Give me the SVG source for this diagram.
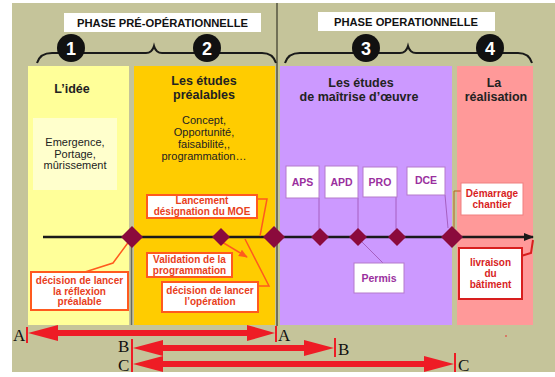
<svg xmlns="http://www.w3.org/2000/svg" width="555" height="377" viewBox="0 0 555 377">
<defs>
<style>
.hdr{font-family:"Liberation Sans",Arial,sans-serif;font-weight:bold;font-size:11px;fill:#111;text-anchor:middle}
.ttl{font-family:"Liberation Sans",Arial,sans-serif;font-weight:bold;font-size:12.5px;fill:#222;text-anchor:middle}
.body{font-family:"Liberation Sans",Arial,sans-serif;font-size:11px;fill:#222;text-anchor:middle}
.num{font-family:"Liberation Sans",Arial,sans-serif;font-weight:bold;font-size:18px;fill:#fff;text-anchor:middle}
.obox{fill:#fff;stroke:#FF5A1E;stroke-width:2}
.otxt{font-family:"Liberation Sans",Arial,sans-serif;font-weight:bold;font-size:10px;fill:#E8401C;text-anchor:middle}
.pbox{fill:#fff;stroke:#B47ACB;stroke-width:1}
.ptxt{font-family:"Liberation Sans",Arial,sans-serif;font-weight:bold;font-size:10.5px;fill:#9A2F9E;text-anchor:middle}
.rtxt{font-family:"Liberation Sans",Arial,sans-serif;font-weight:bold;font-size:10px;fill:#D81E1E;text-anchor:middle}
.dia{fill:#8B0A3C}
.brace{fill:none;stroke:#1a1a1a;stroke-width:2}
.oline{fill:none;stroke:#FF5A1E;stroke-width:1.5}
.pline{fill:none;stroke:#A55FC0;stroke-width:1}
.letter{font-family:"Liberation Serif","Times New Roman",serif;font-size:17px;fill:#111}
.red{fill:#EE1C25}
.tick{stroke:#EE1C25;stroke-width:2}
</style>
<marker id="oarr" viewBox="0 0 10 10" refX="9" refY="5" markerWidth="6" markerHeight="6" orient="auto"><path d="M0,1 L10,5 L0,9 z" fill="#FF5A1E"/></marker>
<marker id="karr" viewBox="0 0 10 10" refX="9" refY="5" markerWidth="4" markerHeight="4" orient="auto"><path d="M0,1 L10,5 L0,9 z" fill="#1a1a1a"/></marker>
</defs>

<!-- background -->
<rect x="12" y="3" width="543" height="369" fill="#C5C49A"/>

<!-- panels -->
<g id="panel1">
<rect x="28" y="66" width="101" height="259" fill="#FFFF99"/>
<rect x="33" y="118" width="84" height="72" fill="#FFFFCC"/>
<text class="ttl" x="72" y="93">L’idée</text>
<text class="body" x="75" y="146">Emergence,</text>
<text class="body" x="75" y="157.5">Portage,</text>
<text class="body" x="75" y="169">mûrissement</text>
</g>
<g id="panel2">
<rect x="134" y="66" width="141" height="259" fill="#FFCC00"/>
<text class="ttl" x="204" y="85">Les études</text>
<text class="ttl" x="204" y="99">préalables</text>
<text class="body" x="204" y="124">Concept,</text>
<text class="body" x="204" y="136">Opportunité,</text>
<text class="body" x="204" y="147.5">faisabilité,,</text>
<text class="body" x="204" y="159.5">programmation…</text>
</g>
<g id="panel3">
<rect x="280" y="66" width="172" height="259" fill="#CC99FF"/>
<text class="ttl" x="361" y="87">Les études</text>
<text class="ttl" x="359" y="101">de maîtrise d’œuvre</text>
</g>
<g id="panel4">
<rect x="457" y="66" width="76" height="259" fill="#FF9999"/>
<text class="ttl" x="494" y="87">La</text>
<text class="ttl" x="496" y="101">réalisation</text>
</g>

<!-- dividers -->
<line x1="131.5" y1="237" x2="131.5" y2="325" stroke="#6b6b5a" stroke-width="1.5"/>
<line x1="277" y1="3" x2="277" y2="326" stroke="#55553f" stroke-width="1.5"/>

<!-- headers -->
<g id="header1">
<rect x="64" y="13" width="197" height="19" fill="#fff"/>
<text class="hdr" x="162.5" y="27" textLength="171" lengthAdjust="spacingAndGlyphs">PHASE PRÉ-OPÉRATIONNELLE</text>
</g>
<g id="header2">
<rect x="318" y="12" width="177" height="19" fill="#fff"/>
<text class="hdr" x="406" y="26" textLength="144" lengthAdjust="spacingAndGlyphs">PHASE OPERATIONNELLE</text>
</g>

<!-- braces -->
<path class="brace" d="M37,63 Q40,53 52,53 L146,53 Q152,53 154,46 Q156,53 162,53 L262,53 Q273,53 276,63"/>
<path class="brace" d="M285,63 Q288,53 300,53 L400,53 Q406,53 408,46 Q410,53 416,53 L518,53 Q529,53 532,63"/>
<g id="step1"><circle cx="71" cy="48" r="14" fill="#111"/><text class="num" x="71" y="54.5">1</text></g>
<g id="step2"><circle cx="207" cy="48" r="14" fill="#111"/><text class="num" x="207" y="54.5">2</text></g>
<g id="step3"><circle cx="366" cy="48" r="14" fill="#111"/><text class="num" x="366" y="54.5">3</text></g>
<g id="step4"><circle cx="490" cy="48" r="14" fill="#111"/><text class="num" x="490" y="54.5">4</text></g>

<!-- connectors -->
<g id="connectors">
<line x1="43" y1="237" x2="533" y2="237" stroke="#1a1a1a" stroke-width="2.5" marker-end="url(#karr)"/>
<polyline class="oline" points="85,272 113,263 130,240"/>
<polyline class="oline" points="257,199 267,199 260,236"/>
<line class="oline" x1="222" y1="242" x2="247" y2="257" marker-end="url(#oarr)"/>
<polyline class="oline" points="258,286 269,286 245,239"/>
<line class="pline" x1="319" y1="198" x2="319" y2="229"/>
<line class="pline" x1="358" y1="198" x2="358" y2="229"/>
<line class="pline" x1="396" y1="197" x2="396" y2="229"/>
<line class="pline" x1="445" y1="195" x2="448" y2="228"/>
<line class="pline" x1="362" y1="242" x2="383" y2="263"/>
<polyline fill="none" stroke="#B5651D" stroke-width="1" points="461,191 454,191 454,228"/>
<polyline fill="none" stroke="#D81E1E" stroke-width="2" points="521,256 531,253 533,240"/>
</g>

<!-- milestones -->
<g id="milestones">
<polygon class="dia" points="132,226 143,237 132,248 121,237"/>
<polygon class="dia" points="221,228 230,237 221,246 212,237"/>
<polygon class="dia" points="274,226 285,237 274,248 263,237"/>
<polygon class="dia" points="320,228 329,237 320,246 311,237"/>
<polygon class="dia" points="358,228 367,237 358,246 349,237"/>
<polygon class="dia" points="397,228 406,237 397,246 388,237"/>
<polygon class="dia" points="452,226 463,237 452,248 441,237"/>
</g>

<!-- orange boxes -->
<g id="decision-reflexion">
<rect class="obox" x="31" y="272" width="97" height="38"/>
<text class="otxt" x="79.5" y="284">décision de lancer</text>
<text class="otxt" x="79.5" y="294.5">la réflexion</text>
<text class="otxt" x="79.5" y="305">préalable</text>
</g>
<g id="lancement-moe">
<rect class="obox" x="147" y="195" width="110" height="23"/>
<text class="otxt" x="202" y="204">Lancement</text>
<text class="otxt" x="202" y="214.5">désignation du MOE</text>
</g>
<g id="validation">
<rect class="obox" x="147" y="253" width="85" height="24"/>
<text class="otxt" x="189.5" y="263">Validation de la</text>
<text class="otxt" x="189.5" y="273.5">programmation</text>
</g>
<g id="decision-operation">
<rect class="obox" x="162" y="282" width="96" height="30"/>
<text class="otxt" x="210" y="294">décision de lancer</text>
<text class="otxt" x="210" y="305">l’opération</text>
</g>

<!-- purple boxes -->
<g id="aps"><rect class="pbox" x="286" y="166" width="33" height="32"/><text class="ptxt" x="302.5" y="186">APS</text></g>
<g id="apd"><rect class="pbox" x="325" y="166" width="33" height="32"/><text class="ptxt" x="341.5" y="186">APD</text></g>
<g id="pro"><rect class="pbox" x="363" y="167" width="34" height="30"/><text class="ptxt" x="380" y="186">PRO</text></g>
<g id="dce"><rect class="pbox" x="407" y="167" width="38" height="28"/><text class="ptxt" x="426" y="184">DCE</text></g>
<g id="permis"><rect class="pbox" x="354" y="263" width="50" height="30"/><text class="ptxt" x="379" y="282">Permis</text></g>

<!-- realisation boxes -->
<g id="demarrage">
<rect x="461" y="183" width="62" height="32" fill="#fff" stroke="#F08080" stroke-width="1"/>
<text class="rtxt" x="492" y="197">Démarrage</text>
<text class="rtxt" x="492" y="208">chantier</text>
</g>
<g id="livraison">
<rect x="459" y="248" width="63" height="51" fill="#fff" stroke="#D81E1E" stroke-width="2"/>
<text class="rtxt" x="490.5" y="266">livraison</text>
<text class="rtxt" x="490.5" y="277">du</text>
<text class="rtxt" x="490.5" y="288">bâtiment</text>
</g>

<!-- durations -->
<g id="span-A">
<line class="tick" x1="27" y1="327" x2="27" y2="343"/>
<line class="tick" x1="276" y1="326" x2="276" y2="342"/>
<rect class="red" x="50" y="330" width="204" height="6"/>
<polygon class="red" points="28,333 58,325 58,341"/>
<polygon class="red" points="275,333 247,325 247,341"/>
<text class="letter" x="13" y="341">A</text>
<text class="letter" x="278" y="341">A</text>
</g>
<g id="span-B">
<line class="tick" x1="132" y1="339" x2="132" y2="356"/>
<line class="tick" x1="335" y1="338" x2="335" y2="357"/>
<rect class="red" x="155" y="345" width="158" height="6"/>
<polygon class="red" points="133,348 163,340 163,356"/>
<polygon class="red" points="334,348 304,340 304,356"/>
<text class="letter" x="118" y="352">B</text>
<text class="letter" x="338" y="355">B</text>
</g>
<g id="span-C">
<line class="tick" x1="132" y1="356" x2="132" y2="372"/>
<line class="tick" x1="455" y1="353" x2="455" y2="372"/>
<rect class="red" x="155" y="361" width="278" height="6"/>
<polygon class="red" points="133,364 163,356 163,372"/>
<polygon class="red" points="454,364 424,356 424,372"/>
<text class="letter" x="118" y="371">C</text>
<text class="letter" x="458" y="371">C</text>
</g>
<circle cx="506" cy="336" r="0.8" fill="#EE1C25"/>
</svg>
